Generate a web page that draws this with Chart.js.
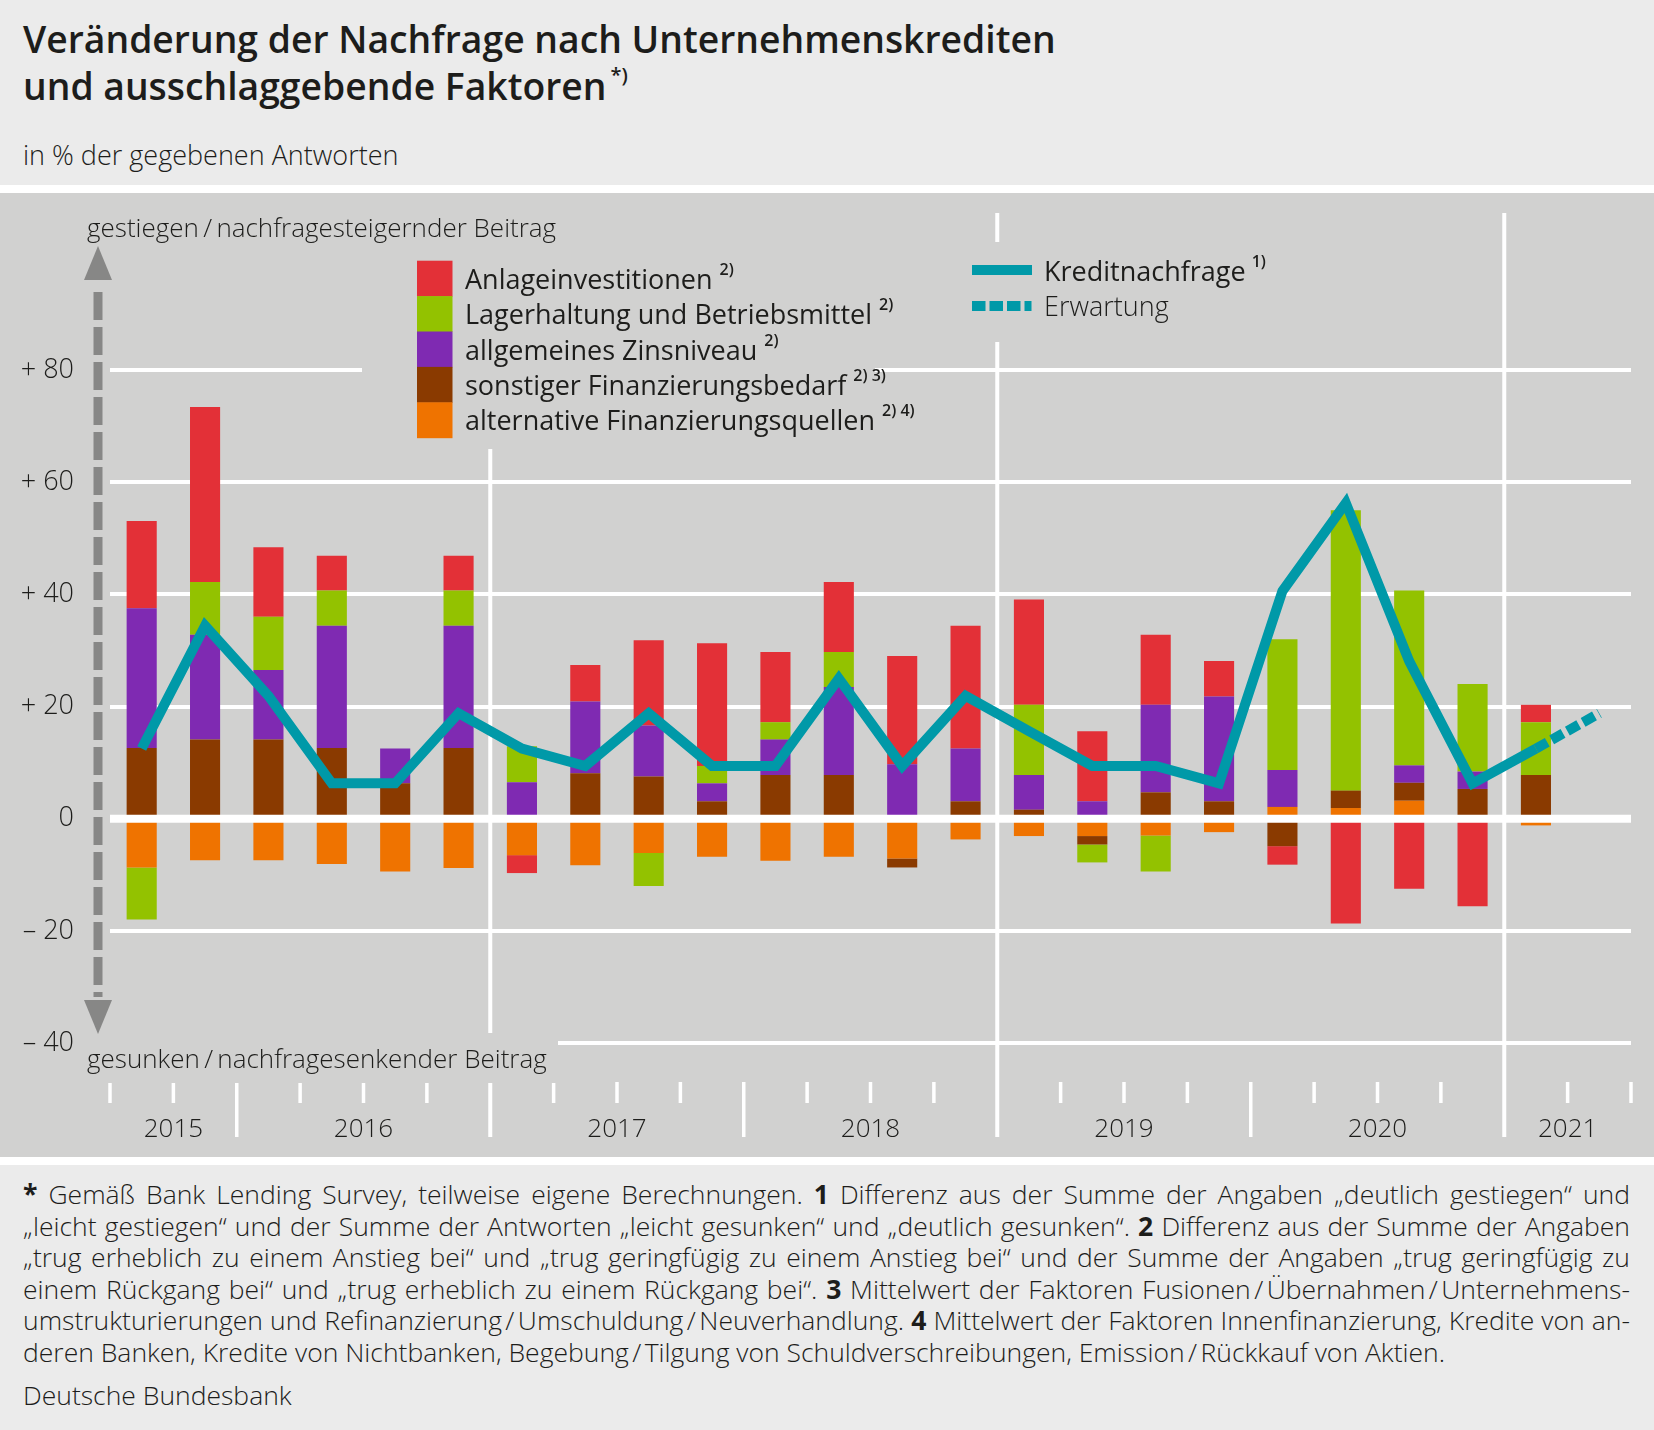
<!DOCTYPE html>
<html lang="de">
<head>
<meta charset="utf-8">
<title>Nachfrage nach Unternehmenskrediten</title>
<script src="https://cdn.jsdelivr.net/npm/chart.js@4.4.1/dist/chart.umd.min.js"></script>
<style>
  body { margin:0; width:1654px; height:1430px; background:#ebebeb; position:relative; overflow:hidden;
         font-family:'Open Sans', sans-serif; color:#1d1d1b; }
  .abs { position:absolute; }
  #title { left:23px; top:15px; font-size:37.3px; font-weight:600; line-height:47px; white-space:nowrap; }
  #title sup { font-size:20px; font-weight:600; vertical-align:0; position:relative; top:-18px; margin-left:4px; }
  #sub { left:23px; top:140px; font-size:27px; font-weight:300; line-height:30px; }
  .white { left:0; width:1654px; background:#fff; }
  #chart { left:0; top:193px; width:1654px; height:964px; background:#d1d1d0; }
  #foot { left:23px; top:1179px; width:1607px; font-size:26.5px; font-weight:300; line-height:31.6px; }
  #foot .j { text-align:justify; text-align-last:justify; }
  #foot b { font-weight:700; }
  #quelle { left:23px; top:1380px; font-size:26.5px; font-weight:300; line-height:31.6px; }
</style>
</head>
<body>

<div id="title" class="abs">Veränderung der Nachfrage nach Unternehmenskrediten<br>und ausschlaggebende Faktoren<sup>*)</sup></div>
<div id="sub" class="abs">in % der gegebenen Antworten</div>
<div class="abs white" style="top:185px;height:8px"></div>
<canvas id="chart" class="abs" width="1654" height="964"></canvas>
<div class="abs white" style="top:1157px;height:8px"></div>

<div id="foot" class="abs">
<div class="j"><b>*</b> Gemäß Bank Lending Survey, teilweise eigene Berechnungen. <b>1</b> Differenz aus der Summe der Angaben „deutlich gestiegen“ und</div>
<div class="j">„leicht gestiegen“ und der Summe der Antworten „leicht gesunken“ und „deutlich gesunken“. <b>2</b> Differenz aus der Summe der Angaben</div>
<div class="j">„trug erheblich zu einem Anstieg bei“ und „trug geringfügig zu einem Anstieg bei“ und der Summe der Angaben „trug geringfügig zu</div>
<div class="j">einem Rückgang bei“ und „trug erheblich zu einem Rückgang bei“. <b>3</b> Mittelwert der Faktoren Fusionen&#8239;/&#8239;Übernahmen&#8239;/&#8239;Unternehmens-</div>
<div class="j">umstrukturierungen und Refinanzierung&#8239;/&#8239;Umschuldung&#8239;/&#8239;Neuverhandlung. <b>4</b> Mittelwert der Faktoren Innenfinanzierung, Kredite von an-</div>
<div>deren Banken, Kredite von Nichtbanken, Begebung&#8239;/&#8239;Tilgung von Schuldverschreibungen, Emission&#8239;/&#8239;Rückkauf von Aktien.</div>
</div>
<div id="quelle" class="abs">Deutsche Bundesbank</div>

<script>
// =======================
// DATA
// =======================
const quarters = [
    '2015 Q3', '2015 Q4',
    '2016 Q1', '2016 Q2', '2016 Q3', '2016 Q4',
    '2017 Q1', '2017 Q2', '2017 Q3', '2017 Q4',
    '2018 Q1', '2018 Q2', '2018 Q3', '2018 Q4',
    '2019 Q1', '2019 Q2', '2019 Q3', '2019 Q4',
    '2020 Q1', '2020 Q2', '2020 Q3', '2020 Q4',
    '2021 Q1', '2021 Q2'
];

// contributions of the factors (percentage points)
const anlageinvestitionen  = [15.6, 31.2, 12.4, 6.2, 0, 6.2, -3.2, 6.5, 15.2, 21.9, 12.5, 12.5, 19.3, 21.9, 18.8, 12.5, 12.5, 6.3, -3.3, -18.7, -12.5, -15.6, 3.1, null];
const lagerhaltung         = [-9.3, 9.4, 9.5, 6.3, 0, 6.3, 6.4, 0, -5.9, 3.1, 3.1, 6.2, 0, 0, 12.5, -3.2, -6.4, 0, 23.3, 50.0, 31.2, 15.6, 9.4, null];
const zinsniveau           = [24.9, 18.7, 12.4, 21.8, 6.2, 21.8, 6.5, 12.8, 9.1, 3.2, 6.3, 15.7, 9.7, 9.4, 6.2, 3.1, 15.6, 18.7, 6.6, 0, 3.1, 3.1, 0, null];
const finanzierungsbedarf  = [12.6, 14.1, 14.1, 12.6, 6.3, 12.6, 0, 8.1, 7.5, 3.1, 7.8, 7.8, -1.6, 3.1, 1.6, -1.5, 4.7, 3.1, -4.9, 3.1, 3.2, 5.3, 7.8, null];
const finanzierungsquellen = [-8.7, -7.4, -7.4, -8.1, -9.4, -8.8, -6.5, -8.3, -6.1, -6.8, -7.5, -6.8, -7.1, -3.7, -3.1, -3.1, -3.0, -2.4, 2.1, 1.9, 3.2, 0, -1.2, null];

// credit demand (net percentage) and expectation
const kreditnachfrage = [12.5, 34.4, 21.9, 6.3, 6.3, 18.8, 12.5, 9.4, 18.8, 9.4, 9.4, 25.0, 9.4, 21.9, 15.6, 9.4, 9.4, 6.3, 40.6, 56.3, 28.1, 6.3, 12.5, null];
const erwartung       = [null, null, null, null, null, null, null, null, null, null, null, null, null, null, null, null, null, null, null, null, null, null, 12.5, 18.8];

const yTicks      = [-40, -20, 0, 20, 40, 60, 80];
const yTickLabels = ['\u2013 40', '\u2013 20', '0', '+ 20', '+ 40', '+ 60', '+ 80'];

// years that start with a full-height separator line
const longSeparatorYears = ['2017', '2019', '2021'];

// legend texts, bottom of stack first
const factorNames = ['alternative Finanzierungsquellen', 'sonstiger Finanzierungsbedarf', 'allgemeines Zinsniveau', 'Lagerhaltung und Betriebsmittel', 'Anlageinvestitionen'];
const factorNotes = ['2) 4)', '2) 3)', '2)', '2)', '2)'];


// =======================
// STYLE
// =======================
const FONT = "'Open Sans', sans-serif";
const TEXT = '#1d1d1b';
const PANEL = '#d1d1d0';
const TEAL = '#0099a8';
const factorColors = ['#ef7300', '#8a3a00', '#7f2ab2', '#93c200', '#e33037'];


// =======================
// DECORATION PLUGIN
// =======================
const deko = {
    id: 'deko',

    beforeDatasetsDraw(chart) {
        const { ctx, chartArea: a, scales: { x } } = chart;
        const step = x.getPixelForValue(1) - x.getPixelForValue(0);
        const edge = i => x.getPixelForValue(i) - step / 2;
        const year = i => quarters[i].slice(0, 4);
        const axisEnd = 944;

        ctx.save();

        // separators and quarter ticks
        ctx.strokeStyle = '#fff';
        for (let i = 0; i <= quarters.length; i++) {
            const px = edge(i);
            let top = 889, bottom = 910;
            ctx.lineWidth = 3.5;
            if (i > 0 && i < quarters.length && year(i) !== year(i - 1)) {
                bottom = axisEnd;
                if (longSeparatorYears.includes(year(i))) {
                    top = a.top;
                    ctx.lineWidth = 4;
                }
            }
            ctx.beginPath();
            ctx.moveTo(px, top);
            ctx.lineTo(px, bottom);
            ctx.stroke();
        }

        // free areas for legends and axis text
        ctx.fillStyle = PANEL;
        ctx.fillRect(362, 20, 513, 236);
        ctx.fillRect(960, 49, 320, 100);
        ctx.fillRect(80, 840, 478, 50);

        // year labels
        ctx.fillStyle = TEXT;
        ctx.font = '300 26px ' + FONT;
        ctx.textAlign = 'center';
        ctx.textBaseline = 'alphabetic';
        let first = 0;
        for (let i = 1; i <= quarters.length; i++) {
            if (i === quarters.length || year(i) !== year(first)) {
                ctx.fillText(year(first), (edge(first) + edge(i)) / 2, axisEnd);
                first = i;
            }
        }

        // axis captions
        ctx.textAlign = 'left';
        ctx.font = '300 26px ' + FONT;
        ctx.fillText('gestiegen\u2009/\u2009nachfragesteigernder Beitrag', 87, 44);
        ctx.fillText('gesunken\u2009/\u2009nachfragesenkender Beitrag', 87, 875);

        // dashed double arrow
        const ax = 98;
        ctx.fillStyle = '#878786';
        ctx.strokeStyle = '#878786';
        ctx.lineWidth = 9;
        ctx.setLineDash([28, 7]);
        ctx.beginPath();
        ctx.moveTo(ax, 99);
        ctx.lineTo(ax, 804);
        ctx.stroke();
        ctx.setLineDash([]);
        ctx.beginPath();
        ctx.moveTo(ax, 53); ctx.lineTo(ax + 14, 87); ctx.lineTo(ax - 14, 87);
        ctx.closePath(); ctx.fill();
        ctx.beginPath();
        ctx.moveTo(ax, 841); ctx.lineTo(ax + 14, 807); ctx.lineTo(ax - 14, 807);
        ctx.closePath(); ctx.fill();

        // legend: factors (top row = last stacked)
        const bars = chart.data.datasets.filter(d => d.type === 'bar');
        const rowH = 35.4;
        bars.slice().reverse().forEach((d, r) => {
            const idx = bars.length - 1 - r;
            const top = 67.7 + r * rowH;
            ctx.fillStyle = d.backgroundColor;
            ctx.fillRect(417, top, 35.5, rowH + 0.5);
            ctx.fillStyle = TEXT;
            ctx.font = '400 27px ' + FONT;
            ctx.fillText(d.label, 465, top + 28);
            const w = ctx.measureText(d.label).width;
            ctx.font = '600 16px ' + FONT;
            ctx.fillText(factorNotes[idx], 465 + w + 7, top + 14);
        });

        // legend: credit demand
        ctx.fillStyle = TEAL;
        ctx.fillRect(972, 72, 60, 10);
        for (let k = 0; k < 4; k++) {
            ctx.fillRect(972 + k * 17.5, 108, k < 3 ? 13.5 : 7, 10);
        }
        ctx.fillStyle = TEXT;
        ctx.font = '500 27px ' + FONT;
        ctx.fillText('Kreditnachfrage', 1044, 88);
        const kw = ctx.measureText('Kreditnachfrage').width;
        ctx.font = '600 16px ' + FONT;
        ctx.fillText('1)', 1044 + kw + 6, 74);
        ctx.font = '300 27px ' + FONT;
        ctx.fillText('Erwartung', 1044, 123);

        ctx.restore();
    },

    afterDatasetsDraw(chart) {
        const { ctx, chartArea: a, scales: { y } } = chart;
        const y0 = y.getPixelForValue(0);
        ctx.save();
        ctx.strokeStyle = '#fff';
        ctx.lineWidth = 8;
        ctx.beginPath();
        ctx.moveTo(a.left, y0);
        ctx.lineTo(a.right, y0);
        ctx.stroke();
        ctx.restore();
    }
};


// =======================
// CHART
// =======================
const factorData = [finanzierungsquellen, finanzierungsbedarf, zinsniveau, lagerhaltung, anlageinvestitionen];

const barSets = factorData.map((d, i) => ({
    type: 'bar',
    label: factorNames[i],
    data: d,
    backgroundColor: factorColors[i],
    borderWidth: 0,
    stack: 'faktoren',
    order: 2,
    barPercentage: 1,
    categoryPercentage: 0.475
}));

const lineSets = [
    {
        type: 'line', label: 'Kreditnachfrage', data: kreditnachfrage,
        borderColor: TEAL, borderWidth: 10, pointRadius: 0, tension: 0,
        borderJoinStyle: 'miter', borderCapStyle: 'butt', stack: 'kredit', order: 1
    },
    {
        type: 'line', label: 'Erwartung', data: erwartung,
        borderColor: TEAL, borderWidth: 10, borderDash: [13, 5], pointRadius: 0, tension: 0,
        borderCapStyle: 'butt', stack: 'erwartung', order: 1
    }
];

new Chart(document.getElementById('chart'), {
    data: { labels: quarters, datasets: [...barSets, ...lineSets] },
    options: {
        responsive: false,
        animation: false,
        layout: { padding: { top: 20, right: 23, left: 0, bottom: 0 } },
        plugins: { legend: { display: false }, tooltip: { enabled: false } },
        scales: {
            x: {
                stacked: true,
                grid: { display: false },
                border: { display: false },
                ticks: { display: false },
                afterFit: s => { s.height = 114; s.paddingLeft = 0; s.paddingRight = 0; }
            },
            y: {
                stacked: true,
                min: -40,
                max: 108,
                afterBuildTicks: s => { s.ticks = yTicks.map(v => ({ value: v })); },
                grid: {
                    color: c => (c.tick && c.tick.value === 0) ? 'rgba(0,0,0,0)' : '#ffffff',
                    lineWidth: 4,
                    drawTicks: false
                },
                border: { display: false },
                ticks: {
                    padding: 36,
                    color: TEXT,
                    font: { family: FONT, size: 27, weight: '300' },
                    callback: (v, i) => yTickLabels[i]
                },
                afterFit: s => { s.width = 110; s.paddingTop = 0; s.paddingBottom = 0; }
            }
        }
    },
    plugins: [deko]
});
</script>
</body>
</html>
